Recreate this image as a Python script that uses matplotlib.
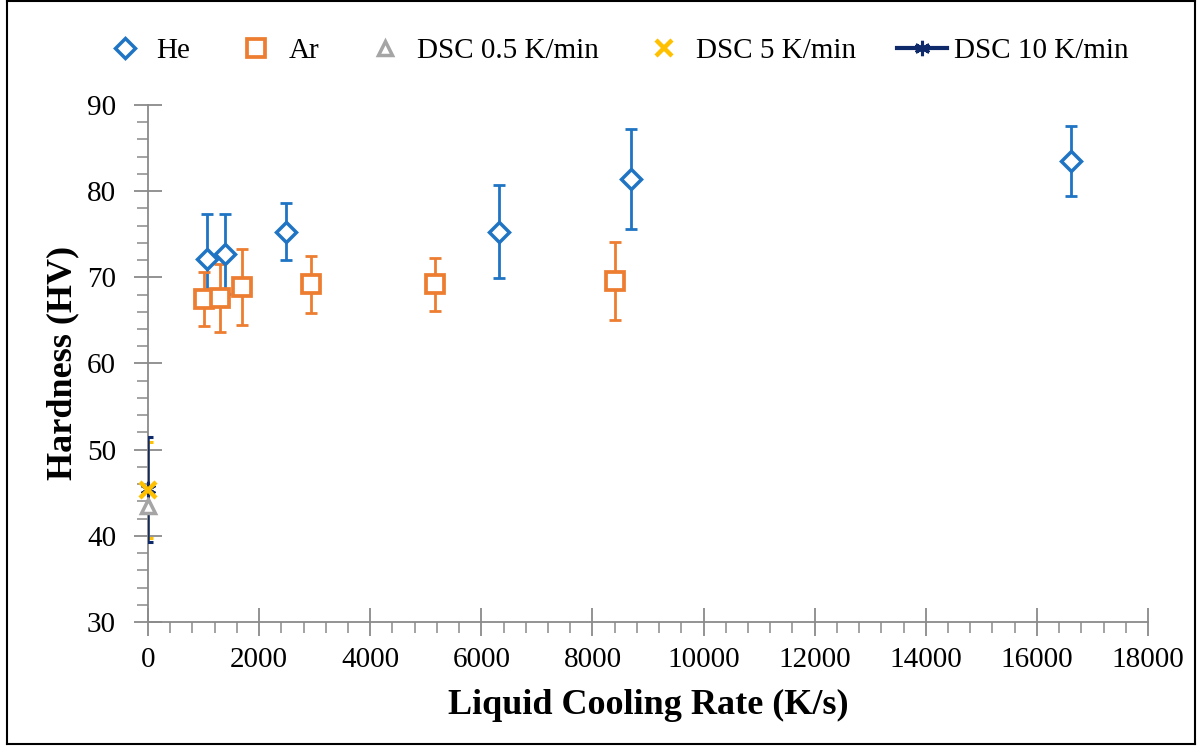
import matplotlib
matplotlib.use("Agg")
import matplotlib.pyplot as plt
from matplotlib.ticker import MultipleLocator
from matplotlib.lines import Line2D

plt.rcParams['font.family'] = ['Liberation Serif', 'DejaVu Serif']

# hardness vs liquid cooling rate
he_rate = [1060, 1380, 2480, 6310, 8690, 16610]
he_hv = [72.1, 72.7, 75.3, 75.3, 81.4, 83.5]
he_err = [5.2, 4.6, 3.3, 5.4, 5.8, 4.1]

ar_rate = [1010, 1300, 1690, 2940, 5170, 8400]
ar_hv = [67.5, 67.6, 68.9, 69.2, 69.2, 69.6]
ar_err = [3.1, 4.0, 4.4, 3.3, 3.1, 4.5]

# DSC runs, K/min converted to K/s
dsc_labels = ['DSC 0.5 K/min', 'DSC 5 K/min', 'DSC 10 K/min']
dsc_rate = [0.5 / 60, 5 / 60, 10 / 60]
dsc_hv = [43.5, 45.3, 45.4]
dsc_err = [0.0, 5.6, 6.1]

blue = '#1F74C4'
orange = '#ED7D31'
grey = '#A5A5A5'
yellow = '#FFC000'
navy = '#0E2A6B'
axis_grey = '#8A8A8A'

fig = plt.figure(figsize=(12.02, 7.5), dpi=100)
ax = fig.add_axes([0.1231, 0.1707, 0.832, 0.6893])

# error bars first so the markers sit on top
ax.errorbar(he_rate, he_hv, yerr=he_err, fmt='none', ecolor=blue,
            elinewidth=2.0, capsize=4.5, capthick=2.0, zorder=2)
ax.errorbar(ar_rate, ar_hv, yerr=ar_err, fmt='none', ecolor=orange,
            elinewidth=2.0, capsize=4.5, capthick=2.0, zorder=2)
ax.errorbar(dsc_rate[1], dsc_hv[1], yerr=dsc_err[1], fmt='none', ecolor=yellow,
            elinewidth=1.8, capsize=3.5, capthick=2.2, zorder=4)
ax.errorbar(dsc_rate[2], dsc_hv[2], yerr=dsc_err[2], fmt='none', ecolor=navy,
            elinewidth=1.8, capsize=3.5, capthick=2.2, zorder=5)

ax.plot(he_rate, he_hv, ls='none', marker='D', ms=10.5, mfc='white', mec=blue,
        mew=2.5, label='He', zorder=3)
ax.plot(ar_rate, ar_hv, ls='none', marker='s', ms=12.5, mfc='white', mec=orange,
        mew=2.7, label='Ar', zorder=3)
ax.plot(dsc_rate[0], dsc_hv[0], ls='none', marker='^', ms=10, mfc='white', mec=grey,
        mew=2.5, label=dsc_labels[0], zorder=6, clip_on=False)
ax.plot(dsc_rate[2], dsc_hv[2], ls='-', lw=3, color=navy, marker=(6, 2, 0), ms=11,
        mew=2.2, label=dsc_labels[2], zorder=6, clip_on=False)
ax.plot(dsc_rate[1], dsc_hv[1], ls='none', marker='x', ms=11, mec=yellow,
        mew=3.2, label=dsc_labels[1], zorder=7, clip_on=False)

ax.set_xlim(0, 18000)
ax.set_ylim(30, 90)
ax.xaxis.set_major_locator(MultipleLocator(2000))
ax.xaxis.set_minor_locator(MultipleLocator(400))
ax.yaxis.set_major_locator(MultipleLocator(10))
ax.yaxis.set_minor_locator(MultipleLocator(2))

for side in ('top', 'right'):
    ax.spines[side].set_visible(False)
for side in ('left', 'bottom'):
    ax.spines[side].set_color(axis_grey)
    ax.spines[side].set_linewidth(1.3)

ax.tick_params(which='major', direction='inout', length=20, width=1.3,
               color=axis_grey, labelsize=21, labelcolor='black')
ax.tick_params(which='minor', direction='out', length=8, width=1.1, color=axis_grey)
ax.tick_params(axis='x', which='major', pad=8)
ax.tick_params(axis='y', which='major', pad=13)

fig.text(0.539, 0.059, 'Liquid Cooling Rate (K/s)', ha='center', va='center',
         fontsize=26, fontweight='bold')
fig.text(0.0524, 0.516, 'Hardness (HV)', ha='center', va='center',
         fontsize=26, fontweight='bold', rotation=90)

handles, labels = ax.get_legend_handles_labels()
order = ['He', 'Ar'] + dsc_labels
lookup = dict(zip(labels, handles))
ax.legend([lookup[k] for k in order], order, loc='center', ncol=5,
          bbox_to_anchor=(0.511, 0.932), bbox_transform=fig.transFigure,
          frameon=False, fontsize=21, handlelength=1.7, handletextpad=0.25,
          columnspacing=1.4)

# thin frame round the whole figure
W, H = 1202.0, 750.0
for xs, ys in [((7, 7), (1, 744)), ((1195, 1195), (1, 744)),
               ((7, 1195), (744, 744)), ((7, 1195), (1, 1))]:
    fig.add_artist(Line2D([x / W for x in xs], [1 - y / H for y in ys],
                          color='black', lw=1.5, transform=fig.transFigure))

fig.savefig('out.png', dpi=100)
